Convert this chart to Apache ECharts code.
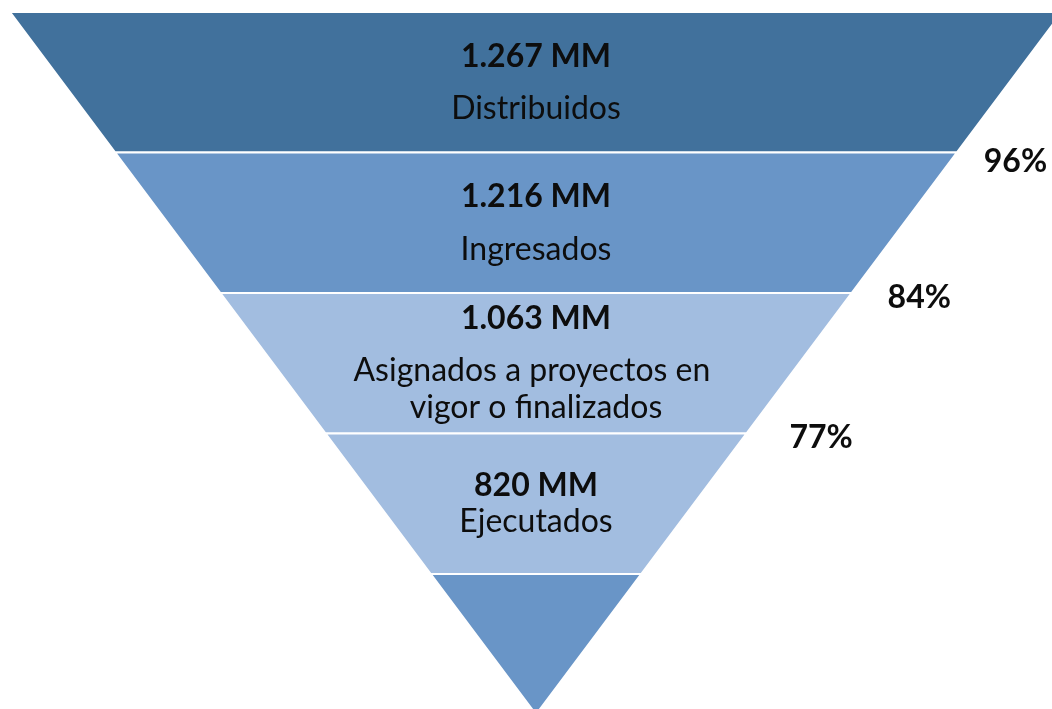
<!DOCTYPE html>
<html>
<head>
<meta charset="utf-8">
<script src="https://cdn.jsdelivr.net/npm/echarts@6/dist/echarts.min.js"></script>
<style>
html,body{margin:0;padding:0;background:#fff}
#main{width:1052px;height:709px}
</style>
</head>
<body>
<div id="main"></div>
<script>
// datos del embudo
var etapas = ['Distribuidos', 'Ingresados', 'Asignados a proyectos en \nvigor o finalizados', 'Ejecutados', ''];
var montos = ['1.267 MM', '1.216 MM', '1.063 MM', '820 MM', ''];
var porcentajes = ['96%', '84%', '77%', '', ''];
// ancho relativo de cada franja (triángulo de franjas iguales)
var anchos = [5, 4, 3, 2, 1];

var colores = ['#41719c', '#6995c7', '#a2bde0', '#a2bde0', '#6995c7'];
// [monto, etapa, espacio final]
var alturasLinea = [[52, 52, 0], [53, 53, 0], [67, 37, 16], [36, 36, 0], [10, 10, 0]];
var largoLinea = [22, 31, 38, 0, 0];
var bajada = [19, 10, 9, 0, 0];

var fuente = 'Lato, "Open Sans", sans-serif';
var tam = 32;

var datosTexto = anchos.map(function (v, i) {
    var txt = '';
    if (montos[i]) {
        txt = '{v|' + montos[i] + '}\n{n|' + etapas[i].replace('\n', '}\n{n|') + '}';
        if (alturasLinea[i][2]) txt += '\n{s| }';
    }
    return {
        value: v,
        name: etapas[i],
        itemStyle: { color: colores[i] },
        label: {
            formatter: txt,
            rich: {
                v: { fontFamily: fuente, fontSize: tam, fontWeight: 'bold', color: '#0d0d0d', lineHeight: alturasLinea[i][0] },
                n: { fontFamily: fuente, fontSize: tam, color: '#0d0d0d', lineHeight: alturasLinea[i][1] },
                s: { fontSize: 4, lineHeight: alturasLinea[i][2] }
            }
        }
    };
});

var datosPct = anchos.map(function (v, i) {
    return {
        value: v,
        name: etapas[i],
        label: {
            formatter: porcentajes[i] ? '{s| }\n{p|' + porcentajes[i] + '}' : '',
            rich: {
                s: { fontSize: 4, lineHeight: bajada[i] },
                p: { fontFamily: fuente, fontSize: tam, fontWeight: 'bold', color: '#0d0d0d', lineHeight: 34 }
            }
        },
        labelLine: { show: false, length: largoLinea[i] }
    };
});

var base = {
    type: 'funnel',
    left: 10,
    top: 12,
    width: 1052,
    height: 702.5,
    min: 0,
    max: 5,
    minSize: '0%',
    maxSize: '100%',
    sort: 'none',
    gap: 0,
    silent: true,
    emphasis: { disabled: true }
};

var option = {
    backgroundColor: '#fff',
    animation: false,
    series: [
        Object.assign({}, base, {
            itemStyle: { borderColor: '#fff', borderWidth: 2 },
            label: { show: true, position: 'inside' },
            labelLine: { show: false },
            data: datosTexto
        }),
        Object.assign({}, base, {
            itemStyle: { color: 'rgba(0,0,0,0)', borderWidth: 0 },
            label: { show: true, position: 'rightBottom' },
            labelLine: { show: false },
            data: datosPct
        })
    ]
};

var myChart = echarts.init(document.getElementById('main'));
myChart.setOption(option);
</script>
</body>
</html>
